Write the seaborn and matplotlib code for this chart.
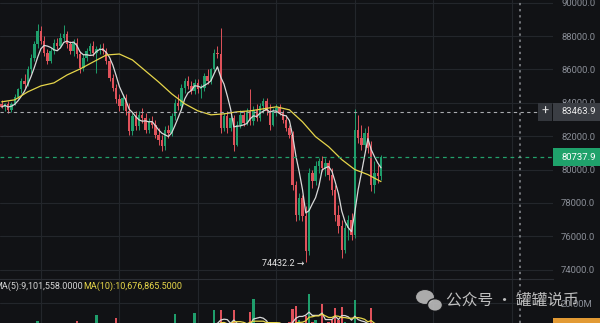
import matplotlib
matplotlib.use("Agg")
import numpy as np
import pandas as pd
import matplotlib.pyplot as plt
import matplotlib.transforms as mtransforms
from matplotlib.patches import Rectangle, Ellipse
from matplotlib.lines import Line2D
import seaborn as sns

# ---- candle data ----
opens = [83900, 83750, 83950, 83550, 83950, 84350, 84800, 85300, 85100, 86000,
         86700, 87500, 88300, 87700, 87000, 86500, 87100, 87600, 87400, 87900,
         88100, 87500, 87100, 87600, 86900, 86100, 86700, 87100, 87400, 87000,
         87200, 87300, 87100, 86500, 85500, 84900, 84200, 83800, 84300, 83500,
         82300, 83200, 82600, 83300, 83100, 82400, 82900, 82700, 82100, 81800,
         81400, 82400, 82200, 83200, 84000, 83800, 84900, 85300, 85000, 84700,
         85200, 84800, 84900, 85600, 85300, 86000, 87000, 86900, 82500, 83200,
         82500, 83100, 81500, 82700, 83300, 82800, 83500, 82900, 83600, 83100,
         83800, 84100, 83500, 82700, 83500, 83700, 83400, 83000, 82500, 82100,
         79100, 77300, 78300, 77200, 75100, 79800, 79300, 80200, 80500, 80100,
         80400, 79700, 78800, 77300, 76600, 75200, 76500, 77000, 76100, 82400,
         81900, 81500, 82200, 81300, 79100, 79800, 79600]
highs = [84150, 84000, 84100, 84050, 84500, 84900, 85500, 85700, 86200, 86900,
         87700, 88750, 88600, 88000, 87200, 87300, 87800, 87900, 88200, 88650,
         88300, 87700, 87800, 87900, 87100, 86900, 87300, 87600, 87700, 87400,
         87500, 87600, 87300, 86700, 85700, 85100, 84500, 84500, 84500, 84000,
         83400, 83500, 83500, 83700, 83400, 83100, 83200, 83000, 82500, 82100,
         82600, 82700, 83400, 84200, 84500, 85100, 85500, 85600, 85300, 85400,
         85400, 85100, 85800, 86000, 86100, 87200, 87400, 88500, 83400, 83500,
         83300, 83300, 82900, 83600, 83500, 83700, 84800, 83800, 83900, 84000,
         84300, 84300, 83900, 83700, 83900, 83900, 83600, 83300, 82700, 82300,
         79300, 78600, 78500, 77800, 80100, 80000, 80500, 80700, 80800, 80700,
         80600, 80100, 79100, 77900, 77000, 76800, 77300, 77400, 83650, 83300,
         82700, 82500, 82600, 81700, 80500, 80300, 80900]
lows = [83700, 83500, 83400, 83450, 83850, 84200, 84600, 84900, 85000, 85800,
        86500, 87300, 87500, 86800, 86300, 86400, 86900, 87200, 87300, 87700,
        87300, 86900, 86800, 86700, 85800, 85900, 86500, 86900, 86800, 85800,
        86900, 86900, 86300, 85300, 84700, 84000, 83500, 83600, 83300, 82100,
        82100, 82400, 82400, 82800, 82200, 82200, 82500, 81900, 81500, 81100,
        81200, 81900, 82000, 83000, 83600, 83600, 84600, 84800, 84500, 84500,
        84600, 84300, 84700, 85100, 85100, 85900, 86700, 82200, 82300, 82200,
        82300, 81100, 81400, 82500, 82600, 82700, 82700, 82700, 82900, 82900,
        83400, 83300, 82400, 82600, 83200, 83300, 82800, 82300, 81900, 78800,
        76900, 77000, 76900, 74432.2, 74900, 78900, 79100, 79800, 79900, 79600,
        79400, 78500, 76900, 76200, 74700, 75000, 75800, 75800, 75900, 81600,
        81200, 81300, 81000, 78700, 78600, 79200, 79400]
closes = [83750, 83950, 83550, 83950, 84350, 84800, 85300, 85100, 86000, 86700,
          87500, 88300, 87700, 87000, 86500, 87100, 87600, 87400, 87900, 88100,
          87500, 87100, 87600, 86900, 86100, 86700, 87100, 87400, 87000, 87200,
          87300, 87100, 86500, 85500, 84900, 84200, 83800, 84300, 83500, 82300,
          83200, 82600, 83300, 83100, 82400, 82900, 82700, 82100, 81800, 81400,
          82400, 82200, 83200, 84000, 83800, 84900, 85300, 85000, 84700, 85200,
          84800, 84900, 85600, 85300, 86000, 87000, 86900, 82500, 83200, 82500,
          83100, 81500, 82700, 83300, 82800, 83500, 82900, 83600, 83100, 83800,
          84100, 83500, 82700, 83500, 83700, 83400, 83000, 82500, 82100, 79100,
          77300, 78300, 77200, 75100, 79800, 79300, 80200, 80500, 80100, 80400,
          79700, 78800, 77300, 76600, 75200, 76500, 77000, 76100, 82400, 81900,
          81500, 82200, 81300, 79100, 79800, 79600, 80737.9]
volumes_m = [6, 5, 7, 6, 8, 7, 9, 8, 9, 10, 9, 11.6, 10, 9, 8, 7, 6, 7, 8, 9,
             10, 8, 7, 11.6, 10, 8, 7, 6, 9, 14.4, 7, 6, 8, 10, 9, 13.0, 10, 9, 8, 10,
             9, 7, 6, 7, 8, 6, 7, 9, 8, 10, 9, 8, 9, 14.9, 9, 8, 10, 7, 8, 15.3,
             8, 7, 9, 8, 10, 16.7, 9, 16.7, 10, 9, 8, 16.7, 9, 8, 7, 10, 15.8, 21.9, 10, 9,
             8, 10, 9, 8, 7, 9, 8, 10, 11, 17.2, 18.6, 12, 10, 14, 24.2, 11, 12, 10, 19.5, 9,
             11, 12, 17.7, 12, 18.1, 11, 9, 10, 21.4, 10, 8, 7, 6, 17.7, 6, 5, 7]

# slow (yellow) moving average as drawn, sampled every 4 candles
ma_slow_idx = list(range(0, 117, 4))
ma_slow_val = [84060, 84180, 84660, 85015, 85195, 85670, 86030, 86450, 86865, 86925,
               86570, 85910, 85250, 84540, 83940, 83520, 83280, 83340, 83460, 83520,
               83640, 83760, 83580, 82860, 81970, 81370, 80600, 80000, 79700, 79280]

price_ticks = [74000, 76000, 78000, 80000, 82000, 84000, 86000, 88000, 90000]
grid_x = [12, 36, 60, 84, 108, 132, 156]
cross_price = 83463.9
last_price = 80737.9
low_price = 74432.2

BG = "#111215"
GRID = "#23262b"
UP = "#1f9e6c"
DOWN = "#e0525b"
AXIS_TXT = "#8a8e97"

sns.set_theme(style="dark", rc={"axes.facecolor": BG, "figure.facecolor": BG})
plt.rcParams["font.family"] = ["Roboto", "DejaVu Sans"]

W, H = 600, 323
fig = plt.figure(figsize=(6, 3.23), dpi=100)
fig.patch.set_facecolor(BG)
ax = fig.add_axes([0, 44 / H, 553 / W, 279 / H])
axv = fig.add_axes([0, 0, 553 / W, 44 / H])

df = pd.DataFrame({"o": opens, "h": highs, "l": lows, "c": closes, "v": volumes_m})
df["i"] = np.arange(len(df))
df["up"] = df["c"] >= df["o"]
colors = np.where(df["up"], UP, DOWN)
df["ma5"] = df["c"].rolling(5, min_periods=1).mean()
df["vma5"] = df["v"].rolling(5, min_periods=1).mean()
df["vma10"] = df["v"].rolling(10, min_periods=1).mean()

for a in (ax, axv):
    a.set_facecolor(BG)
    a.set_xlim(-0.5, 168.6)
    a.set_xticks(grid_x)
    a.tick_params(axis="x", length=0, labelbottom=False)
    a.grid(True, color=GRID, lw=0.8)
    a.set_axisbelow(True)
    for s in a.spines.values():
        s.set_visible(False)

# candles
ax.vlines(df["i"], df["l"], df["h"], colors=colors, lw=0.7, zorder=2)
body_lo = np.minimum(df["o"], df["c"])
body_h = np.maximum(np.abs(df["c"] - df["o"]), 30)
ax.bar(df["i"], body_h, bottom=body_lo, width=0.74, color=colors, lw=0, zorder=3)

sns.lineplot(x=df["i"], y=df["ma5"], ax=ax, color="#d9d9d9", lw=0.9, zorder=4)
sns.lineplot(x=ma_slow_idx, y=ma_slow_val, ax=ax, color="#e6d54a", lw=0.9, zorder=4)

ax.set_ylim(73443, 90162)
ax.yaxis.tick_right()
ax.set_yticks(price_ticks)
ax.set_yticklabels([f"{v:.1f}" for v in price_ticks])
ax.tick_params(axis="y", length=0, pad=5.8, labelsize=6.8, labelcolor=AXIS_TXT)
ax.set_xlabel("")
ax.set_ylabel("")

ax.axhline(cross_price, xmin=0, xmax=538 / 553, color="#a9abaf", lw=0.8,
           ls=(0, (3, 3)), zorder=5)
ax.axhline(last_price, xmin=0, xmax=1, color="#22a06b", lw=0.9,
           ls=(0, (3, 3)), zorder=5)

blend = mtransforms.blended_transform_factory(ax.transAxes, ax.transData)
half = 9 / 279 * (90162 - 73443)
ax.add_patch(Rectangle((538 / 553, cross_price - half), 14 / 553, 2 * half,
                       transform=blend, clip_on=False, fc="#33363c", lw=0, zorder=6))
ax.text(545 / 553, cross_price, "+", transform=blend, ha="center", va="center",
        color="#e0e0e0", fontsize=9, clip_on=False, zorder=7)
ax.add_patch(Rectangle((1.0, cross_price - half), 47 / 553, 2 * half,
                       transform=blend, clip_on=False, fc="#3b3e44", lw=0, zorder=6))
ax.text(1 + 8 / 553, cross_price, f"{cross_price:.1f}", transform=blend,
        ha="left", va="center", color="#ececec", fontsize=6.8, clip_on=False, zorder=7)
ax.add_patch(Rectangle((1.0, last_price - half), 47 / 553, 2 * half,
                       transform=blend, clip_on=False, fc="#1fa26b", lw=0, zorder=6))
ax.text(1 + 8 / 553, last_price, f"{last_price:.1f}", transform=blend,
        ha="left", va="center", color="#ffffff", fontsize=6.8, clip_on=False, zorder=7)

ax.text(93 - 13.5, low_price - 80, f"{low_price:.1f} \u2192", color="#e6e6e6",
        fontsize=6.5, ha="left", va="center", zorder=7,
        family=["Roboto", "DejaVu Sans"])

# volume pane
axv.bar(df["i"], df["v"], width=0.74, color=colors, lw=0, zorder=3)
sns.lineplot(x=df["i"], y=df["vma5"], ax=axv, color="#d9d9d9", lw=0.9, zorder=4)
sns.lineplot(x=df["i"], y=df["vma10"], ax=axv, color="#e6d54a", lw=0.9, zorder=4)
axv.set_ylim(10.7, 31.2)
axv.yaxis.tick_right()
axv.set_yticks([20])
axv.set_yticklabels(["20.00M"])
axv.tick_params(axis="y", length=0, pad=5.8, labelsize=6.8, labelcolor=AXIS_TXT)
axv.set_xlabel("")
axv.set_ylabel("")
axv.spines["top"].set_visible(True)
axv.spines["top"].set_color("#2a2d33")
axv.spines["top"].set_linewidth(0.8)

fig.text(-6 / W, 1 - 286 / H, "MA(5):9,101,558.0000", color="#d6d6d6",
         fontsize=6.5, ha="left", va="center")
fig.text(83 / W, 1 - 286 / H, "MA(10):10,676,865.5000", color="#e8d84a",
         fontsize=6.5, ha="left", va="center")

# crosshair vertical
fig.add_artist(Line2D([520 / W, 520 / W], [0, 1], transform=fig.transFigure,
                      color="#8c8f94", lw=1.1, ls=(0, (1.5, 2.5)), zorder=5))

# bottom-right orange volume tag
fig.add_artist(Rectangle((553 / W, 0), 47 / W, 5 / H, transform=fig.transFigure,
                         fc="#e29a34", lw=0))

# watermark
fig.add_artist(Ellipse((425 / W, 1 - 297 / H), 19 / W, 15 / H, transform=fig.transFigure,
                       fc="#bdbdbd", ec=BG, lw=0.8, alpha=0.9))
fig.add_artist(Ellipse((435 / W, 1 - 305 / H), 15 / W, 12.5 / H, transform=fig.transFigure,
                       fc="#bdbdbd", ec=BG, lw=1.0, alpha=0.9))
fig.text(446 / W, 1 - 300 / H, "公众号 · 罐罐说币", color="#d2d2d2", alpha=0.9,
         fontsize=11.3, ha="left", va="center",
         family=["Noto Sans CJK SC", "DejaVu Sans"])

fig.savefig("out.png", dpi=100, facecolor=BG)
